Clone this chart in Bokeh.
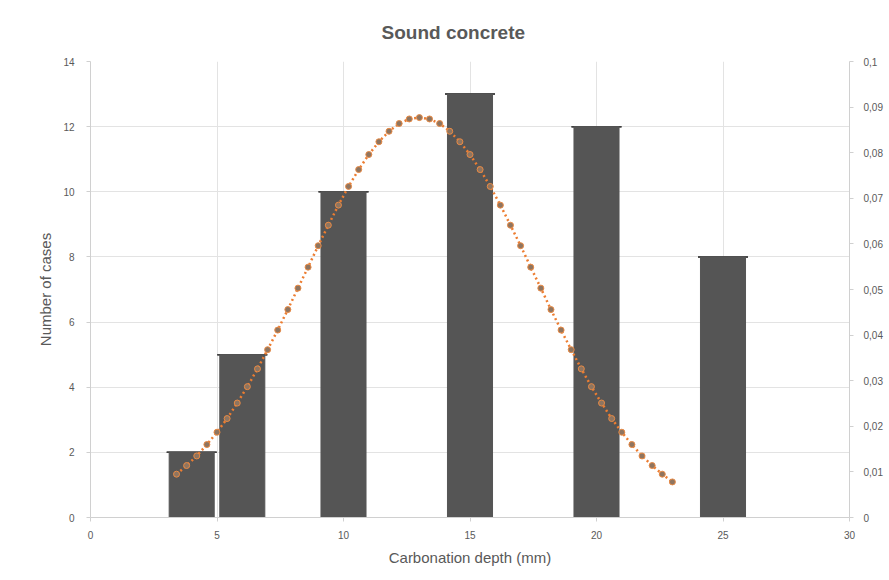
from bokeh.plotting import figure
from bokeh.models import Range1d, LinearAxis, FixedTicker, Whisker, TeeHead, ColumnDataSource
from bokeh.embed import file_html
from bokeh.resources import INLINE

# ---- data ----
depth_bins = [4, 6, 10, 15, 20, 25]
cases = [2, 5, 10, 13, 12, 8]

curve_x = [3.4, 3.8, 4.2, 4.6, 5.0, 5.4, 5.8, 6.2, 6.6, 7.0, 7.4, 7.8, 8.2, 8.6, 9.0,
           9.4, 9.8, 10.2, 10.6, 11.0, 11.4, 11.8, 12.2, 12.6, 13.0, 13.4, 13.8, 14.2,
           14.6, 15.0, 15.4, 15.8, 16.2, 16.6, 17.0, 17.4, 17.8, 18.2, 18.6, 19.0, 19.4,
           19.8, 20.2, 20.6, 21.0, 21.4, 21.8, 22.2, 22.6, 23.0]
curve_y = [0.0095, 0.0114, 0.0135, 0.0160, 0.0187, 0.0217, 0.0251, 0.0287, 0.0326,
           0.0368, 0.0411, 0.0456, 0.0503, 0.0549, 0.0596, 0.0641, 0.0685, 0.0726,
           0.0763, 0.0796, 0.0824, 0.0847, 0.0864, 0.0874, 0.0877, 0.0874, 0.0864,
           0.0847, 0.0824, 0.0796, 0.0763, 0.0726, 0.0685, 0.0641, 0.0596, 0.0549,
           0.0503, 0.0456, 0.0411, 0.0368, 0.0326, 0.0287, 0.0251, 0.0217, 0.0187,
           0.0160, 0.0135, 0.0114, 0.0095, 0.0078]

x_ticks = [0, 5, 10, 15, 20, 25, 30]
y_ticks = [0, 2, 4, 6, 8, 10, 12, 14]
y2_ticks = [0, 0.01, 0.02, 0.03, 0.04, 0.05, 0.06, 0.07, 0.08, 0.09, 0.1]
y2_labels = ["0", "0,01", "0,02", "0,03", "0,04", "0,05", "0,06", "0,07", "0,08", "0,09", "0,1"]

TXT = "#595959"
GRID = "#e3e3e3"
FONT = "Liberation Sans"

p = figure(width=889, height=575, output_backend="svg", toolbar_location=None,
           x_range=Range1d(0, 30), y_range=Range1d(0, 14),
           min_border_left=90, min_border_right=40, min_border_top=61, min_border_bottom=58)
p.extra_y_ranges = {"pdf": Range1d(0, 0.1)}

p.title.text = "Sound concrete"
p.title.align = "left"
p.title.text_font = FONT
p.title.text_font_size = "19px"
p.title.text_font_style = "bold"
p.title.text_color = TXT
p.title.standoff = 37
p.title.offset = 291

p.outline_line_color = None
p.background_fill_color = "white"
p.border_fill_color = "white"

# grid
p.xgrid.ticker = FixedTicker(ticks=x_ticks)
p.ygrid.ticker = FixedTicker(ticks=y_ticks)
p.xgrid.grid_line_color = GRID
p.ygrid.grid_line_color = GRID

# axes
for ax in (p.xaxis[0], p.yaxis[0]):
    ax.axis_line_color = "#d0d0d0"
    ax.major_tick_line_color = "#d0d0d0"
    ax.major_tick_out = 4
    ax.major_tick_in = 0
    ax.minor_tick_line_color = None
    ax.major_label_text_color = TXT
    ax.major_label_text_font = FONT
    ax.major_label_text_font_size = "10px"
    ax.axis_label_text_color = TXT
    ax.axis_label_text_font = FONT
    ax.axis_label_text_font_size = "15px"
    ax.axis_label_text_font_style = "normal"

p.xaxis[0].ticker = FixedTicker(ticks=x_ticks)
p.yaxis[0].ticker = FixedTicker(ticks=y_ticks)
p.xaxis[0].axis_label = "Carbonation depth (mm)"
p.yaxis[0].axis_label = "Number of cases"
p.xaxis[0].major_label_standoff = 9
p.xaxis[0].axis_label_standoff = 7
p.yaxis[0].major_label_standoff = 12
p.yaxis[0].axis_label_standoff = 6

y2 = LinearAxis(y_range_name="pdf", ticker=FixedTicker(ticks=y2_ticks))
y2.major_label_overrides = {t: l for t, l in zip(y2_ticks, y2_labels)}
y2.axis_line_color = "#d0d0d0"
y2.major_tick_line_color = "#d0d0d0"
y2.major_tick_out = 4
y2.major_tick_in = 0
y2.minor_tick_line_color = None
y2.major_label_text_color = TXT
y2.major_label_text_font = FONT
y2.major_label_text_font_size = "10px"
y2.major_label_standoff = 10
p.add_layout(y2, "right")

# bars
src = ColumnDataSource(dict(x=depth_bins, top=cases))
p.vbar(x="x", top="top", width=1.78, source=src, fill_color="#555555", line_color="#555555")

# caps at bar tops
cap = Whisker(source=src, base="x", upper="top", lower="top", dimension="height",
              line_color="#404040", line_width=1.5,
              upper_head=TeeHead(size=50, line_color="#404040", line_width=1.5),
              lower_head=TeeHead(size=50, line_color="#404040", line_width=1.5))
p.add_layout(cap)

# normal curve
p.line(curve_x, curve_y, y_range_name="pdf", line_color="#ED7D31", line_width=2.5,
       line_dash="2 3")
p.scatter(curve_x, curve_y, y_range_name="pdf", size=6, fill_color="#8f7560",
          line_color="#E88A45", line_width=1)

open("out.html", "w").write(file_html(p, INLINE))
